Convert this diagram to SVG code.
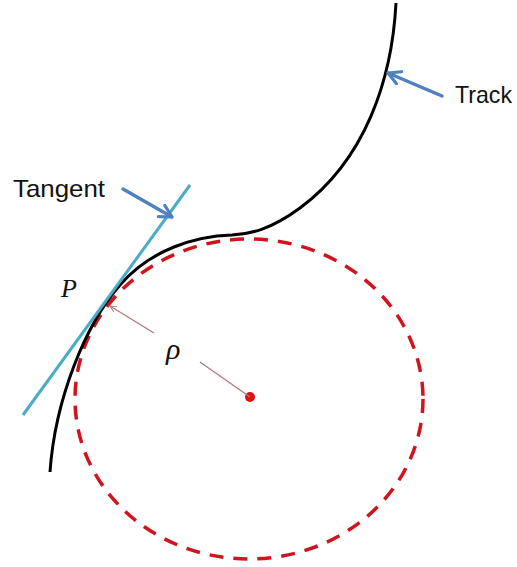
<svg xmlns="http://www.w3.org/2000/svg" width="517" height="567" viewBox="0 0 517 567">
<style>
.lbl{font-family:"Liberation Sans",Arial,sans-serif;font-size:24px;fill:#111}
.math{font-family:"Liberation Serif","Times New Roman",serif;font-style:italic;fill:#111}
.callout{stroke:#4f81bd;stroke-width:3.5;fill:none;stroke-linecap:round}
</style>
<defs>
<marker id="blueHead" viewBox="0 0 16 16" refX="15" refY="8" markerWidth="16" markerHeight="16" orient="auto" markerUnits="userSpaceOnUse">
<path d="M3,1.5 L15,8 L3,14.5" fill="none" stroke="#4f81bd" stroke-width="3.2" stroke-linejoin="round" stroke-linecap="round"/>
</marker>
<marker id="radHead" viewBox="0 0 10 10" refX="9" refY="5" markerWidth="8" markerHeight="8" orient="auto" markerUnits="userSpaceOnUse">
<path d="M1,1 L9,5 L1,9" fill="none" stroke="#b07a7a" stroke-width="1.2"/>
</marker>
</defs>
<rect width="517" height="567" fill="#fff"/>
<g id="circle">
<ellipse cx="249" cy="399" rx="174" ry="160" fill="none" stroke="#d0141e" stroke-width="3.5" stroke-dasharray="14 10"/>
<circle cx="250" cy="397" r="5" fill="#e01010"/>
</g>
<g id="track">
<path d="M396,3 C392,80 365,160 300,208 C270,230 250,234 232,235 C195,236 150,250 120,285 C85,325 55,400 50,472" fill="none" stroke="#000" stroke-width="3"/>
</g>
<g id="tangent">
<line x1="190" y1="185" x2="23" y2="415" stroke="#4bacc6" stroke-width="3"/>
</g>
<g id="connectors">
<line class="callout" x1="123" y1="189" x2="172" y2="217" marker-end="url(#blueHead)"/>
<line class="callout" x1="442" y1="96" x2="388" y2="73" marker-end="url(#blueHead)"/>
<line x1="154" y1="333" x2="110" y2="306" stroke="#b07a7a" stroke-width="1.3" marker-end="url(#radHead)"/>
<line x1="200" y1="362" x2="250" y2="397" stroke="#b07a7a" stroke-width="1.3"/>
</g>
<g id="labels">
<text class="lbl" x="13" y="197" textLength="92" lengthAdjust="spacingAndGlyphs">Tangent</text>
<text class="lbl" x="455" y="103" textLength="57" lengthAdjust="spacingAndGlyphs">Track</text>
<text class="math" x="61" y="297" font-size="26">P</text>
<text class="math" x="166" y="359" font-size="30">ρ</text>
</g>
</svg>
